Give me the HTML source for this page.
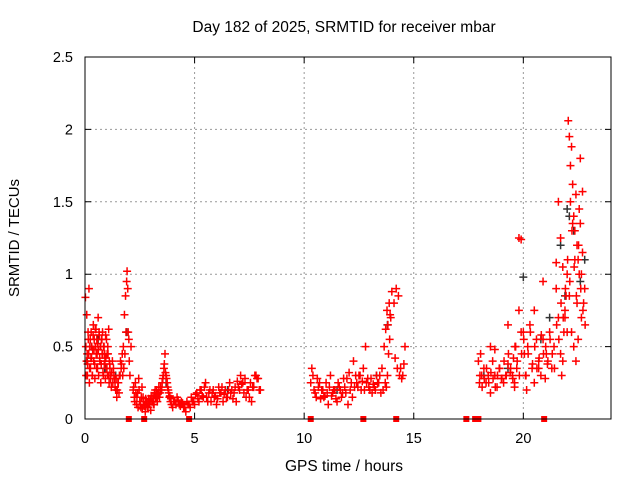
<!DOCTYPE html>
<html><head><meta charset="utf-8"><style>
body{margin:0;background:#fff;}
svg{display:block;font-family:"Liberation Sans",sans-serif;}
</style></head><body>
<svg id="chart" width="640" height="480">
<text x="344" y="32" font-size="15.5" text-anchor="middle">Day 182 of 2025, SRMTID for receiver mbar</text>
<text x="344" y="471" font-size="15.5" text-anchor="middle">GPS time / hours</text>
<text transform="translate(19,238) rotate(-90)" font-size="15" text-anchor="middle">SRMTID / TECUs</text>
<g id="grid"></g><g id="axes"></g><g id="blk"></g><g id="red"></g><g id="zero"></g>
<rect x="85" y="57" width="526" height="362" fill="none" stroke="#000" stroke-width="1"/>
</svg>
<script>
const xTicks=[0,5,10,15,20];
const yTicks=[0,0.5,1,1.5,2,2.5];
const yLabels=["0","0.5","1","1.5","2","2.5"];
const redT=[0.02,0.05,0.08,0.1,0.12,0.15,0.18,0.2,0.22,0.25,0.28,0.3,0.33,0.35,0.38,0.4,0.42,0.45,0.48,0.5,0.53,0.55,0.58,0.6,0.62,0.65,0.68,0.7,0.72,0.75,0.78,0.8,0.82,0.85,0.88,0.9,0.93,0.95,0.98,1.0,1.03,1.05,1.08,1.1,1.13,1.15,1.2,1.25,1.3,1.35,1.4,1.45,1.5,1.55,1.6,1.65,1.7,1.75,1.8,1.85,1.9,1.92,1.95,1.97,2.0,2.02,2.05,2.1,
2.2,2.25,2.3,2.35,2.4,2.45,2.5,2.55,2.6,2.65,2.7,2.75,2.8,2.85,2.9,2.95,3.0,3.05,3.1,3.15,3.2,3.25,3.3,3.35,3.4,3.45,3.5,3.55,3.6,3.65,3.7,3.75,3.8,3.85,3.9,3.95,4.0,4.1,4.2,4.3,4.4,4.5,4.6,4.7,4.8,4.9,5.0,5.1,5.2,5.3,5.4,5.5,5.6,5.7,5.8,5.9,6.0,6.1,6.2,6.3,6.4,6.5,6.6,6.7,6.8,6.9,7.0,7.1,7.2,7.3,7.4,7.5,7.6,7.7,7.8,7.9,8.0,
10.3,10.35,10.4,10.5,10.6,10.7,10.8,10.9,11.0,11.1,11.2,11.3,11.4,11.5,11.6,11.7,11.8,11.9,12.0,12.1,12.2,12.3,12.4,12.5,12.6,12.7,12.8,12.9,13.0,13.1,13.2,13.3,13.4,13.5,13.6,13.7,13.75,13.8,13.85,13.9,13.95,14.0,14.1,14.2,14.3,14.4,14.5,14.6,
17.95,18.0,18.05,18.1,18.2,18.3,18.4,18.5,18.6,18.7,18.8,18.9,19.0,19.1,19.2,19.3,19.4,19.5,19.55,19.6,19.65,19.7,19.8,19.9,20.0,20.05,20.1,20.15,20.2,20.3,20.4,20.5,20.6,20.7,20.8,20.9,21.0,21.05,21.1,21.2,21.3,21.4,21.5,21.6,21.7,21.75,21.8,21.85,21.9,21.95,22.0,22.05,22.1,22.15,22.2,22.25,22.3,22.35,22.4,22.45,22.5,22.55,22.6,22.65,22.7,22.75,22.8,21.8,21.9,22.0,22.1,22.2,22.3,22.4,22.5,22.6,22.7,21.6,21.7,21.5,20.5,20.7,20.9,19.8,19.9,18.5,18.7,19.3,19.6];
const redV=[0.84,0.3,0.72,0.45,0.38,0.55,0.9,0.25,0.5,0.35,0.6,0.42,0.3,0.48,0.65,0.4,0.55,0.28,0.5,0.62,0.35,0.45,0.52,0.7,0.3,0.58,0.4,0.5,0.25,0.55,0.45,0.6,0.32,0.5,0.38,0.45,0.28,0.42,0.55,0.35,0.3,0.45,0.62,0.25,0.38,0.3,0.22,0.4,0.35,0.28,0.2,0.15,0.25,0.18,0.3,0.35,0.45,0.5,0.72,0.85,0.95,1.02,0.9,0.6,0.55,0.4,0.3,0.5,
0.2,0.15,0.25,0.1,0.18,0.28,0.12,0.08,0.22,0.15,0.1,0.05,0.12,0.08,0.14,0.1,0.06,0.12,0.16,0.1,0.2,0.15,0.12,0.18,0.15,0.22,0.2,0.28,0.35,0.45,0.3,0.25,0.2,0.15,0.12,0.1,0.08,0.12,0.15,0.1,0.12,0.08,0.05,0.1,0.08,0.12,0.1,0.18,0.12,0.2,0.15,0.25,0.12,0.2,0.18,0.15,0.1,0.22,0.18,0.12,0.2,0.15,0.25,0.2,0.18,0.12,0.22,0.3,0.25,0.28,0.2,0.15,0.12,0.22,0.3,0.28,0.2,0.25,0.35,0.3,0.18,
0.28,0.25,0.2,0.15,0.25,0.1,0.3,0.18,0.2,0.12,0.22,0.15,0.28,0.18,0.1,0.2,0.15,0.22,0.25,0.3,0.2,0.35,0.5,0.28,0.2,0.18,0.22,0.3,0.25,0.18,0.2,0.25,0.22,0.3,0.45,0.55,0.7,0.88,0.8,0.9,0.85,0.35,0.3,0.5,0.4,0.25,0.45,0.3,
0.35,0.25,0.3,0.18,0.4,0.3,0.22,0.35,0.28,0.25,0.3,0.38,0.32,0.3,0.42,0.25,0.5,0.35,1.25,1.24,0.6,0.45,0.3,0.2,0.5,0.65,0.35,0.25,0.55,0.4,0.3,0.55,0.28,0.45,0.38,0.6,0.35,0.5,0.9,0.7,0.45,0.3,0.4,0.6,0.75,0.85,1.0,2.06,1.95,1.75,1.88,1.62,1.4,1.3,1.55,1.2,1.1,1.45,1.35,1.0,1.15,0.8,0.9,1.05,0.7,0.6,0.85,0.6,0.5,0.4,0.55,1.8,1.57,1.5,1.25,1.08,0.75,0.35,0.95,0.75,0.6,0.5,0.48,0.65,0.22,0.15,0.28,0.35,0.12];
const redT2=[0.04,0.07,0.11,0.14,0.17,0.21,0.24,0.27,0.31,0.34,0.37,0.41,0.44,0.47,0.51,0.54,0.57,0.61,0.64,0.67,0.71,0.74,0.77,0.81,0.84,0.87,0.91,0.94,0.97,1.01,1.04,1.07,1.11,1.14,1.17,1.22,1.27,1.32,1.37,1.42,1.47,1.52,1.57,1.62,1.67,1.72,1.77,1.82,1.87,
2.22,2.27,2.32,2.37,2.42,2.47,2.52,2.57,2.62,2.67,2.72,2.77,2.82,2.87,2.92,2.97,3.02,3.07,3.12,3.17,3.22,3.27,3.32,3.37,3.42,3.47,3.52,3.57,3.62,3.67,3.72,3.77,3.82,3.87,3.92,4.05,4.15,4.25,4.35,4.45,4.55,4.65,4.75,4.85,4.95,5.05,5.15,5.25,5.35,5.45,5.55,5.65,5.75,5.85,5.95,6.05,6.15,6.25,6.35,6.45,6.55,6.65,6.75,6.85,6.95,7.05,7.15,7.25,7.35,7.45,7.55,7.65,7.75,7.85,7.95,
10.45,10.55,10.65,10.75,10.85,10.95,11.05,11.15,11.25,11.35,11.45,11.55,11.65,11.75,11.85,11.95,12.05,12.15,12.25,12.35,12.45,12.55,12.65,12.75,12.85,12.95,13.05,13.15,13.25,13.35,13.45,13.55,13.65,13.72,13.78,13.82,13.88,13.92,14.15,14.25,14.35,14.45,14.55,
18.02,18.12,18.22,18.32,18.42,18.52,18.62,18.72,18.82,18.92,19.02,19.12,19.22,19.32,19.42,19.52,19.62,19.72,19.82,19.92,20.02,20.12,20.22,20.32,20.42,20.52,20.62,20.72,20.82,20.92,21.02,21.12,21.22,21.32,21.42,21.52,21.62,21.72,21.82,21.92,22.02,22.12,22.22,22.32,22.42,22.52,22.62,22.72,22.82,22.35,22.45,22.55,22.65,22.25,22.15];
const redV2=[0.5,0.4,0.3,0.6,0.45,0.35,0.55,0.42,0.5,0.3,0.58,0.48,0.38,0.62,0.45,0.55,0.35,0.48,0.6,0.42,0.5,0.38,0.55,0.45,0.3,0.5,0.4,0.58,0.35,0.45,0.5,0.3,0.4,0.35,0.28,0.32,0.25,0.3,0.22,0.28,0.2,0.25,0.3,0.4,0.38,0.3,0.35,0.45,0.6,
0.22,0.12,0.18,0.15,0.08,0.2,0.1,0.15,0.07,0.12,0.09,0.14,0.11,0.08,0.1,0.13,0.16,0.12,0.1,0.18,0.14,0.2,0.17,0.22,0.18,0.2,0.25,0.3,0.38,0.32,0.28,0.22,0.18,0.16,0.14,0.12,0.1,0.13,0.09,0.11,0.08,0.12,0.1,0.15,0.12,0.17,0.14,0.2,0.16,0.22,0.15,0.18,0.12,0.2,0.16,0.14,0.18,0.22,0.17,0.15,0.2,0.18,0.14,0.22,0.26,0.2,0.24,0.18,0.15,0.2,0.25,0.22,0.3,0.28,0.2,
0.2,0.15,0.22,0.14,0.2,0.16,0.18,0.22,0.16,0.2,0.14,0.25,0.2,0.18,0.22,0.28,0.32,0.25,0.4,0.3,0.22,0.3,0.26,0.2,0.25,0.22,0.28,0.24,0.2,0.25,0.3,0.35,0.5,0.62,0.75,0.65,0.8,0.72,0.42,0.35,0.3,0.28,0.38,
0.3,0.22,0.28,0.35,0.25,0.32,0.28,0.22,0.3,0.35,0.28,0.4,0.3,0.45,0.35,0.28,0.5,0.4,0.3,0.45,0.55,0.3,0.45,0.6,0.38,0.5,0.35,0.42,0.58,0.45,0.5,0.4,0.55,0.45,0.35,0.65,0.55,0.8,0.7,0.9,1.1,0.95,1.3,1.05,0.85,1.2,0.9,0.75,0.65,1.1,0.8,1.0,0.7,1.35,1.5];
const zeroT=[2.0,2.7,4.75,10.3,12.7,14.2,17.4,17.8,17.95,20.95];
const blkT=[0.1,0.3,0.6,0.9,1.4,1.9,3.7,6.5,11.5,13.3,13.8,18.2,19.3,20.0,20.8,21.2,21.7,22.0,22.3,22.6,22.8,22.1,21.9];
const blkV=[0.4,0.5,0.55,0.35,0.3,0.6,0.25,0.2,0.2,0.3,0.65,0.3,0.35,0.98,0.55,0.7,1.2,1.45,1.3,0.95,1.1,1.4,0.85];
const X0=85,X1=611,Y0=419,Y1=57;
const xs=t=>X0+(X1-X0)*t/24, ys=v=>Y0-(Y0-Y1)*v/2.5;
const NS="http://www.w3.org/2000/svg";
function mk(tag,attrs,parent){const e=document.createElementNS(NS,tag);for(const k in attrs)e.setAttribute(k,attrs[k]);parent.appendChild(e);return e;}
const grid=document.getElementById('grid'),axes=document.getElementById('axes');
xTicks.forEach((t,i)=>{const x=xs(t);
 if(t>0){const g=mk('line',{x1:x,x2:x,y1:Y1,y2:Y0,stroke:'#999','stroke-dasharray':'2,3'},grid);
 
 }
 const tk=mk('path',{d:`M${x},${Y0}v-6M${x},${Y1}v6`,stroke:'#000'},axes);
 
 
 const l=mk('text',{x:x,y:443,'font-size':14.5,'text-anchor':'middle'},axes);l.textContent=String(t);
 
 });
yTicks.forEach((v,i)=>{const y=ys(v);
 if(v>0&&v<2.5){const g=mk('line',{x1:X0,x2:X1,y1:y,y2:y,stroke:'#999','stroke-dasharray':'2,3'},grid);
 
 }
 const tk=mk('path',{d:`M${X0},${y}h6M${X1},${y}h-6`,stroke:'#000'},axes);
 
 
 const l=mk('text',{x:73,y:y+5,'font-size':14.5,'text-anchor':'end'},axes);l.textContent=yLabels[i];
 
 });
function plot(T,V,col,gid,name){const g=document.getElementById(gid);
 T.forEach((t,i)=>{const x=xs(t),y=ys(V[i]);
  const p=mk('path',{d:`M${x-4},${y}h8M${x},${y-4}v8`,stroke:col,'stroke-width':1.5},g);
  
  });}
plot(blkT,blkV,'#333','blk','black-point');
plot(redT,redV,'#f00','red','red-point');
plot(redT2,redV2,'#f00','red','red-point');
const zg=document.getElementById('zero');
zeroT.forEach(t=>{const r=mk('rect',{x:xs(t)-3,y:Y0-3,width:6,height:6,fill:'#f00'},zg);
 
 });
</script>
</body></html>
